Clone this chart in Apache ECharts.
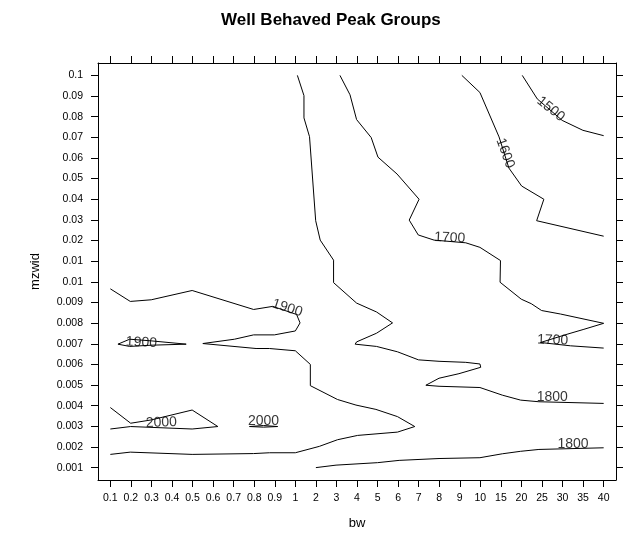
<!DOCTYPE html>
<html><head><meta charset="utf-8">
<script src="https://cdn.jsdelivr.net/npm/echarts@6/dist/echarts.min.js"></script>
<style>html,body{margin:0;padding:0;background:#fff}#c{width:627px;height:535px}</style>
</head><body><div id="c"></div>
<script>
// Axis categories (plotted at index positions)
const bwLabels = ['0.1','0.2','0.3','0.4','0.5','0.6','0.7','0.8','0.9','1','2','3','4','5','6','7','8','9','10','15','20','25','30','35','40'];
const mzwidLabels = ['0.001','0.002','0.003','0.004','0.005','0.006','0.007','0.008','0.009','0.01','0.01','0.02','0.03','0.04','0.05','0.06','0.07','0.08','0.09','0.1'];

// Contour polylines, in (bw index, mzwid index) data space
const contour1500 = [[20.04,19.0],[20.77,17.86],[21.98,16.82],[22.99,16.34],[24.0,16.08]];
const contour1600 = [[17.10,19.0],[17.98,18.17],[18.91,16.02],[19.39,14.51],[20.01,13.64],[21.09,13.0],[20.74,11.96],[24.0,11.21]];
const contour1700 = [[11.17,19.0],[11.66,18.06],[11.98,16.86],[12.69,15.99],[13.02,15.04],[13.95,14.22],[15.02,13.0],[14.54,11.99],[14.98,11.27],[15.75,11.02],[17.29,10.89],[17.98,10.67],[18.98,10.03],[18.96,8.98],[19.99,8.16],[20.48,7.94],[20.98,7.61],[21.90,7.44],[24.0,6.99],[23.04,6.70],[22.22,6.46],[20.93,6.06],[20.93,5.98],[22.39,5.90],[24.0,5.79]];
const contour1800a = [[9.10,19.0],[9.42,18.02],[9.42,16.94],[9.69,16.03],[9.99,11.96],[10.21,11.02],[10.86,10.05],[10.86,8.96],[11.98,7.97],[12.95,7.54],[13.73,7.01],[12.95,6.51],[11.98,6.09],[11.91,5.98],[12.95,5.87],[13.97,5.61],[14.99,5.22],[15.99,5.15],[17.29,5.10],[17.98,5.02],[18.02,4.86],[16.96,4.55],[15.99,4.33],[15.35,3.99],[15.99,3.94],[17.98,3.88],[19.07,3.51],[19.96,3.27],[20.85,3.19],[24.0,3.11]];
const contour1800b = [[10.0,0.0],[10.98,0.12],[13.0,0.24],[14.05,0.35],[15.99,0.44],[17.98,0.48],[19.07,0.67],[19.96,0.79],[20.85,0.88],[24.0,0.96]];
const contour1900a = [[0,8.66],[0.97,8.05],[1.99,8.13],[3.98,8.58],[6.97,7.66],[7.90,7.81],[9.06,7.42],[9.23,7.01],[9.0,6.62],[7.98,6.43],[6.97,6.43],[6.04,6.22],[4.50,6.01],[7.09,5.77],[7.74,5.77],[9.0,5.66],[9.73,5.0],[9.73,3.97],[11.05,3.30],[11.95,3.03],[12.92,2.82],[13.97,2.47],[14.81,1.99],[13.97,1.72],[12.03,1.56],[11.05,1.35],[10.17,1.03],[9.0,0.72],[7.74,0.72],[6.97,0.68],[3.98,0.64],[0.97,0.75],[0,0.64]];
const contour1900b = [[0.37,5.98],[0.94,6.22],[1.99,6.14],[3.69,5.98],[1.99,5.93],[0.94,5.87],[0.37,5.98]];
const contour2000a = [[0,2.91],[0.99,2.15],[1.99,2.31],[3.98,2.79],[5.23,1.99],[3.98,1.87],[0.99,1.99],[0,1.87]];
const contour2000b = [[6.77,1.99],[7.45,2.04],[8.14,1.99],[7.45,1.96],[6.77,1.99]];

// Contour labels: [level, bw index, mzwid index]
const contourLabels = [
  ['1500',21.43,17.37],
  ['1600',19.21,15.23],
  ['1700',16.51,11.13],
  ['1700',21.52,6.17],
  ['1800',21.50,3.43],
  ['1800',22.51,1.15],
  ['1900',8.61,7.73],
  ['1900',1.51,6.06],
  ['2000',2.48,2.18],
  ['2000',7.45,2.23]
];
const labelRotation = [-39,-70,-3,-2,0,0,-18,-3,2,0];

const xIdx = bwLabels.map((_, i) => i);
const yIdx = mzwidLabels.map((_, i) => i);
const axisColor = '#000';
const font = 'Liberation Sans, Arial, sans-serif';

function lineSeries(data) {
  return {
    type: 'line', data: data, showSymbol: false, symbol: 'none',
    lineStyle: { color: '#000', width: 1 }, silent: true, animation: false,
    xAxisIndex: 0, yAxisIndex: 0
  };
}

function axisLine() {
  return { show: true, onZero: false, lineStyle: { color: axisColor, width: 1 } };
}

const chart = echarts.init(document.getElementById('c'), null, { renderer: 'canvas' });
chart.setOption({
  animation: false,
  backgroundColor: '#fff',
  title: {
    text: 'Well Behaved Peak Groups', left: 221, top: 12, padding: 0,
    textStyle: { fontFamily: font, fontSize: 17, fontWeight: 'bold', color: '#000' }
  },
  grid: { left: 98, right: 11, top: 63, bottom: 49, show: false },
  xAxis: [{
    type: 'value', position: 'bottom', min: -0.6, max: 24.6,
    name: 'bw', nameLocation: 'middle', nameGap: 37,
    nameTextStyle: { fontFamily: font, fontSize: 13, color: '#000' },
    axisLine: axisLine(),
    axisTick: { show: true, customValues: xIdx, length: 7, lineStyle: { color: axisColor } },
    axisLabel: { customValues: xIdx, formatter: v => bwLabels[Math.round(v)], fontFamily: font, fontSize: 10.5, color: '#000', margin: 13 },
    splitLine: { show: false }
  }, {
    type: 'value', position: 'top', min: -0.6, max: 24.6,
    axisLine: axisLine(),
    axisTick: { show: true, customValues: xIdx, length: 7, lineStyle: { color: axisColor } },
    axisLabel: { show: false },
    splitLine: { show: false }
  }],
  yAxis: [{
    type: 'value', position: 'left', min: -0.6, max: 19.6,
    name: 'mzwid', nameLocation: 'middle', nameGap: 56,
    nameTextStyle: { fontFamily: font, fontSize: 13, color: '#000' },
    axisLine: axisLine(),
    axisTick: { show: true, customValues: yIdx, length: 7, lineStyle: { color: axisColor } },
    axisLabel: { customValues: yIdx, formatter: v => mzwidLabels[Math.round(v)], fontFamily: font, fontSize: 10.5, color: '#000', margin: 15 },
    splitLine: { show: false }
  }, {
    type: 'value', position: 'right', min: -0.6, max: 19.6,
    axisLine: axisLine(),
    axisTick: { show: true, customValues: yIdx, length: 7, lineStyle: { color: axisColor } },
    axisLabel: { show: false },
    splitLine: { show: false }
  }],
  series: [
    lineSeries(contour1500),
    lineSeries(contour1600),
    lineSeries(contour1700),
    lineSeries(contour1800a),
    lineSeries(contour1800b),
    lineSeries(contour1900a),
    lineSeries(contour1900b),
    lineSeries(contour2000a),
    lineSeries(contour2000b),
    {
      type: 'scatter', symbolSize: 0, silent: true, animation: false, z: 5,
      data: contourLabels.map((d, i) => ({
        value: [d[1], d[2]], name: d[0],
        label: { rotate: labelRotation[i] }
      })),
      label: {
        show: true, position: 'inside', formatter: p => p.name,
        fontFamily: font, fontSize: 14, color: '#000'
      }
    }
  ]
});
</script>
</body></html>
